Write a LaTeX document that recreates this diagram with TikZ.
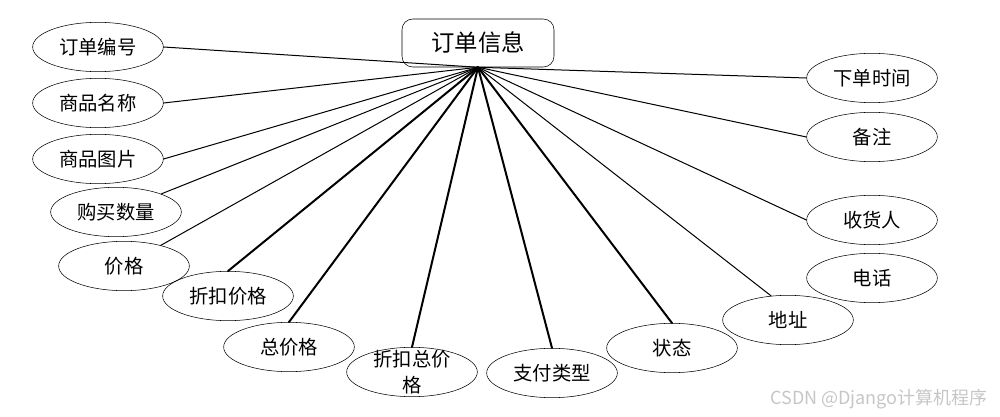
\documentclass[tikz,border=0pt]{standalone}
\usepackage{fontspec}
\newfontfamily\cjk{Noto Sans CJK SC}
\usetikzlibrary{shapes.geometric}

\begin{document}
\begin{tikzpicture}[
    x=0.75pt,
    y=-0.75pt,
    line cap=round,
    line join=round,
    attr/.style={draw, ellipse, minimum width=98pt, minimum height=37pt,
        inner sep=0pt, font=\cjk\fontsize{14.5}{19}\selectfont},
    entity/.style={draw, rounded corners=8pt, minimum width=114pt,
        minimum height=36pt, font=\cjk\fontsize{17.5}{21}\selectfont},
    thinlink/.style={line width=0.75pt},
    thicklink/.style={line width=1.5pt}
]

% Picture frame
\useasboundingbox (0,0) rectangle (1000,417);

% The entity
\node[entity] (order) at (478,43) {订单信息};
\coordinate (hub) at (order.south);

% Attributes on the left
\node[attr] (num)   at (98,47)   {订单编号};
\node[attr] (name)  at (98,103)  {商品名称};
\node[attr] (pic)   at (98,159)  {商品图片};
\node[attr] (qty)   at (116,212) {购买数量};
\node[attr] (price) at (124,266) {价格};

% Attributes at the bottom
\node[attr] (dprice)  at (228,296) {折扣价格};
\node[attr] (total)   at (289,347) {总价格};
\node[attr] (dtotal)  at (412,372) {};
\node[font=\cjk\fontsize{14.5}{19}\selectfont, align=center]
    (dtotaltext) at (dtotal) {折扣总价\\格};
\node[attr] (paytype) at (552,373) {支付类型};
\node[attr] (state)   at (672,348) {状态};
\node[attr] (addr)    at (788,320) {地址};

% Attributes on the right
\node[attr] (phone)    at (872,278) {电话};
\node[attr] (receiver) at (872,220) {收货人};
\node[attr] (remark)   at (872,137) {备注};
\node[attr] (time)     at (872,78)  {下单时间};

% Thin links
\foreach \n in {num.east,name.east,pic.east,qty,price,addr.125,
                receiver.west,remark.west,time.west}
    \draw[thinlink] (hub) -- (\n);

% Thick links
\foreach \n in {dprice,total,dtotal,paytype,state}
    \draw[thicklink] (hub) -- (\n.north);

% Watermark
\node[gray!45, font=\cjk\fontsize{13.5}{16}\selectfont] (mark)
    at (879,399) {CSDN @Django计算机程序};

\end{tikzpicture}
\end{document}
